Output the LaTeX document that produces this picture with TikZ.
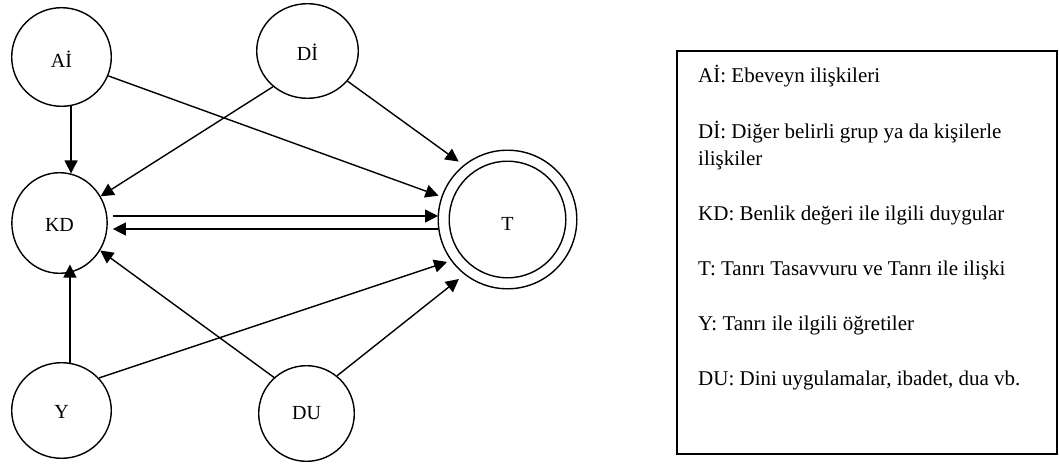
\documentclass[tikz,border=0pt]{standalone}
\usepackage{fontspec}
\setmainfont{Liberation Serif}
\usetikzlibrary{shapes.geometric,arrows.meta,calc}
\tikzset{
  circ/.style={ellipse, draw, line width=1.4pt, inner sep=0pt, text depth=0pt, font=\fontsize{20}{24}\selectfont},
  arr/.style={line width=1.4pt, -{Triangle[length=13pt,width=13pt]}},
  legend/.style={anchor=base west, font=\fontsize{21}{27}\selectfont, inner sep=0pt}
}
\begin{document}
\begin{tikzpicture}[x=1pt,y=-1pt]
\useasboundingbox (0,0) rectangle (1059,463);
% circles
\node[circ, minimum width=99.6pt, minimum height=98.6pt, text height=20pt] (AI) at (61.5,57) {Aİ};
\node[circ, minimum width=101.6pt, minimum height=94.6pt, text height=18pt] (DI) at (307.5,51) {Dİ};
\node[circ, minimum width=95.3pt, minimum height=100.6pt, text height=17.4pt] (KD) at (59.5,223) {KD};
\node[circ, minimum width=99.6pt, minimum height=95.6pt, text height=15.6pt] (Y) at (61.5,410.5) {Y};
\node[circ, minimum width=95.6pt, minimum height=95.6pt, text height=11.6pt] (DU) at (306.5,413.5) {DU};
\node[circle, draw, line width=1.4pt, inner sep=0pt, minimum size=138.6pt] (T) at (507.5,219.5) {};
\node[circ, minimum width=116.6pt, minimum height=116.6pt, text height=21pt] (Tin) at (T.center) {T};
% connectors
\draw[arr] (AI.-79) -- (AI.-79 |- KD.77);
\draw[arr] (DI.226) -- (KD.33);
\draw[arr, shorten >=3pt] (AI.-22) -- (T.161);
\draw[arr, shorten >=6pt] (DI.-37) -- (T.129);
\draw[arr] ($(KD.east)+(5,-7)$) -- ($(T.west)+(0.5,-3.5)$);
\draw[arr] ($(T.west)+(0.5,9.5)$) -- ($(KD.east)+(5,6)$);
\draw[arr] (Y.80) -- ($(Y.80 |- KD.-77)+(0,-8)$);
\draw[arr] (DU.132) -- (KD.-34);
\draw[arr, shorten >=4pt] (Y.41) -- (T.216);
\draw[arr, shorten >=7pt] (DU.51) -- (T.232);
% legend box
\draw[line width=1.8pt] (677,51) rectangle (1057,454);
\node[legend] (l1) at (698,82) {Aİ: Ebeveyn ilişkileri};
\node[legend] (l2) at (698,138) {Dİ: Diğer belirli grup ya da kişilerle};
\node[legend] (l2b) at (698,165) {ilişkiler};
\node[legend] (l3) at (698,220) {KD: Benlik değeri ile ilgili duygular};
\node[legend] (l4) at (698,275) {T: Tanrı Tasavvuru ve Tanrı ile ilişki};
\node[legend] (l5) at (698,330) {Y: Tanrı ile ilgili öğretiler};
\node[legend] (l6) at (698,385) {DU: Dini uygulamalar, ibadet, dua vb.};
\end{tikzpicture}
\end{document}
